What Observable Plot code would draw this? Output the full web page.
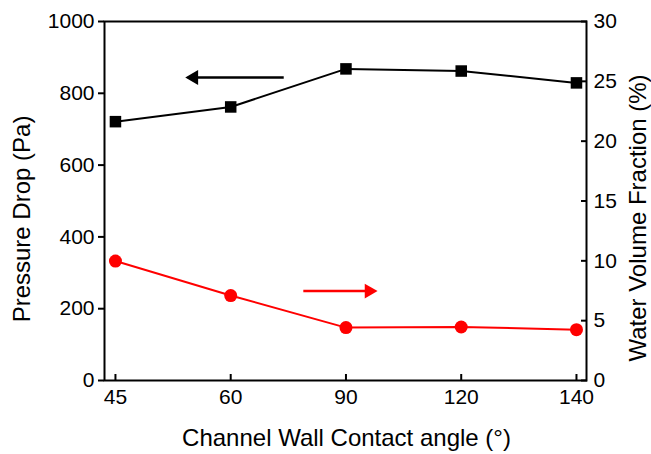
<!DOCTYPE html>
<html><head><meta charset="utf-8">
<script src="https://cdn.jsdelivr.net/npm/d3@7"></script>
<script src="https://cdn.jsdelivr.net/npm/@observablehq/plot@0.6"></script>
<style>body{margin:0;background:#fff} svg{display:block}</style>
</head><body><div id="chart"></div><script>
const angles = ["45", "60", "90", "120", "140"];
const pressureDrop = [721, 762, 868, 862, 829];
const waterFraction = [9.98, 7.1, 4.42, 4.47, 4.25];
const leftTicks = [0, 200, 400, 600, 800, 1000];
const rightTicks = [0, 5, 10, 15, 20, 25, 30];
const xLabel = "Channel Wall Contact angle (°)";
const yLeftLabel = "Pressure Drop (Pa)";
const yRightLabel = "Water Volume Fraction (%)";
// annotation arrows (x in category-index units, y in left-axis units)
const blackArrow = {tail: 1.46, head: 0.68, y: 844};
const redArrow = {tail: 1.63, head: 2.2, y: 249};

const K = 1000 / 30; // right axis (%) -> left axis (Pa) units
const idx = angles.map((_, i) => i);
const pdData = idx.map(i => ({x: i, y: pressureDrop[i]}));
const wfData = idx.map(i => ({x: i, y: waterFraction[i] * K}));
const font = "Liberation Sans, Arial, Helvetica, sans-serif";

const chart = Plot.plot({
  width: 651, height: 454,
  marginLeft: 104, marginRight: 65, marginTop: 21, marginBottom: 74,
  style: {fontFamily: font, fontSize: "21px", color: "black", background: "white"},
  x: {type: "linear", domain: [-0.095, 4.087]},
  y: {domain: [0, 1000]},
  marks: [
    Plot.axisY(leftTicks, {anchor: "left", tickSize: 6, tickPadding: 4, strokeWidth: 2, fontSize: 21, label: null, tickFormat: d => String(d)}),
    Plot.axisY(rightTicks.map(v => v * K), {anchor: "right", tickSize: 0, tickPadding: 7, fontSize: 21, label: null, tickFormat: d => String(Math.round(d / K))}),
    Plot.axisY(rightTicks.map(v => v * K), {anchor: "right", tickSize: -6, strokeWidth: 2, tickFormat: () => "", label: null}),
    Plot.axisX(idx, {anchor: "bottom", tickSize: 0, tickPadding: 9, fontSize: 21, label: null, tickFormat: i => angles[i]}),
    Plot.axisX(idx, {anchor: "bottom", tickSize: -6, strokeWidth: 2, tickFormat: () => "", label: null}),
    Plot.frame({stroke: "black", strokeWidth: 2}),
    Plot.line(pdData, {x: "x", y: "y", stroke: "black", strokeWidth: 2}),
    Plot.dot(pdData, {x: "x", y: "y", symbol: "square", r: 6.5, fill: "black", stroke: "none"}),
    Plot.line(wfData, {x: "x", y: "y", stroke: "#ff0000", strokeWidth: 2}),
    Plot.dot(wfData, {x: "x", y: "y", symbol: "circle", r: 6.5, fill: "#ff0000", stroke: "none"}),
    Plot.link([blackArrow], {x1: "tail", x2: "head", y1: "y", y2: "y", stroke: "black", strokeWidth: 2.5}),
    Plot.dot([blackArrow], {x: "head", y: "y", symbol: "triangle", r: 5.5, rotate: -90, fill: "black", stroke: "none"}),
    Plot.link([redArrow], {x1: "tail", x2: "head", y1: "y", y2: "y", stroke: "#ff0000", strokeWidth: 2.5}),
    Plot.dot([redArrow], {x: "head", y: "y", symbol: "triangle", r: 5.5, rotate: 90, fill: "#ff0000", stroke: "none"}),
    Plot.text([yLeftLabel], {text: d => d, frameAnchor: "left", textAnchor: "middle", lineAnchor: "middle", dx: -82, dy: 18, rotate: -90, fontSize: 24}),
    Plot.text([yRightLabel], {text: d => d, frameAnchor: "right", textAnchor: "middle", lineAnchor: "middle", dx: 52, dy: 17, rotate: -90, fontSize: 24}),
    Plot.text([xLabel], {text: d => d, frameAnchor: "bottom", textAnchor: "middle", lineAnchor: "middle", dx: 1, dy: 58, fontSize: 24})
  ]
});
document.getElementById("chart").appendChild(chart);
</script></body></html>
